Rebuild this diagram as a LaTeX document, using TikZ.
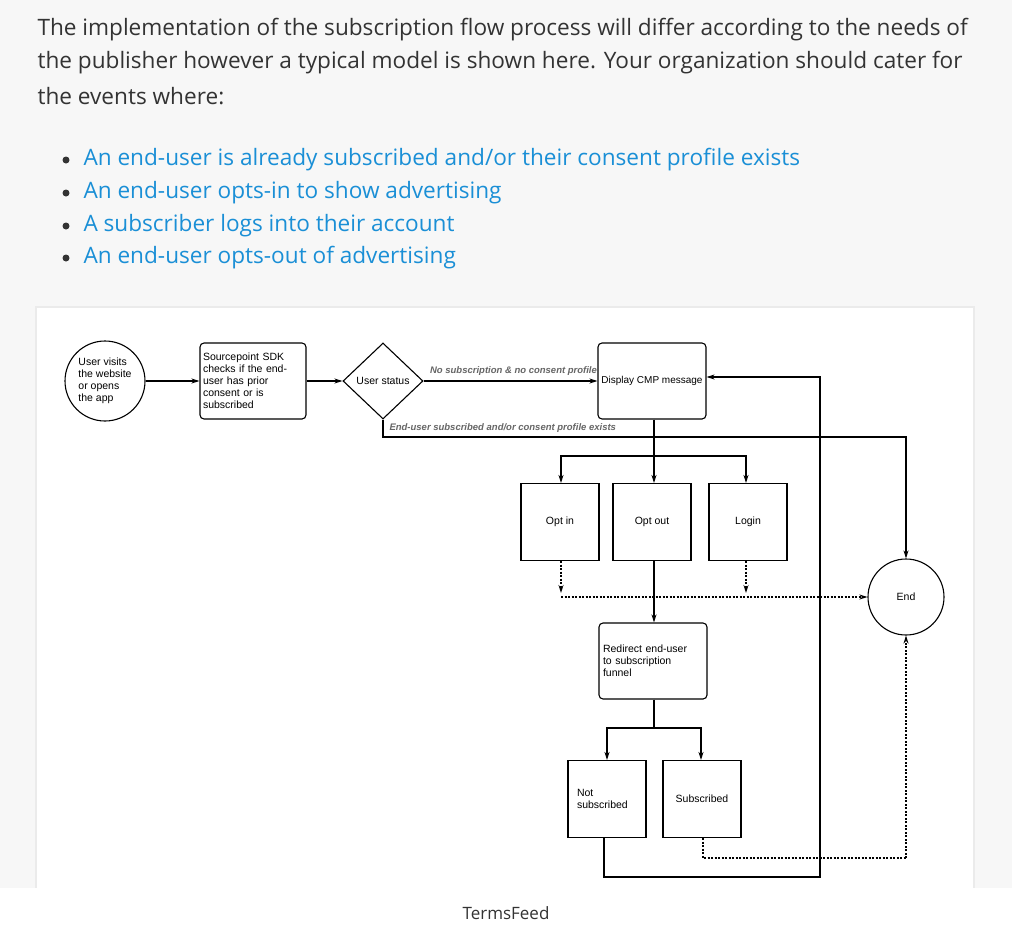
\documentclass[tikz,border=0pt]{standalone}
\usepackage{fontspec}
\setmainfont{Open Sans}
\newfontfamily\arial{Liberation Sans}
\usetikzlibrary{shapes.geometric,arrows.meta,shadows}
\definecolor{pagebg}{HTML}{F7F7F7}
\definecolor{linkblue}{HTML}{1A8FD6}
\definecolor{bodytxt}{HTML}{333333}
\definecolor{lblgray}{HTML}{666666}
\begin{document}
\begin{tikzpicture}[x=1pt,y=-1pt,
  ln/.style={line width=1.1pt,draw=black},
  arr/.style={ln,-{Stealth[length=8pt,width=5pt]}},
  dsh/.style={arr,dashed,dash pattern=on 2pt off 1.5pt},
  dshl/.style={ln,dashed,dash pattern=on 2pt off 1.5pt},
  box/.style={draw,line width=1.1pt,minimum width=#1,font=\arial\fontsize{10.5}{12}\selectfont,inner sep=2pt},
  rbox/.style={box=108pt,rounded corners=4pt,minimum height=76pt,text width=100pt,align=left},
  sbox/.style={box=78pt,minimum height=77pt,align=center},
  lbl/.style={font=\arial\fontsize{9.5}{10}\selectfont\itshape\bfseries,text=lblgray},
  body/.style={font=\fontsize{22.6}{33}\selectfont,text=bodytxt,anchor=west},
  bul/.style={font=\fontsize{22.6}{33}\selectfont,text=linkblue,anchor=west}]
\useasboundingbox (0,0) rectangle (1012,932);
\fill[pagebg] (0,0) rectangle (1012,888);
\fill[white] (0,888) rectangle (1012,932);
\fill[black!8] (35,306) rectangle (975,888);
\fill[white] (37,308) rectangle (973,888);
\node[body] (t1) at (34,30) {The implementation of the subscription flow process will differ according to the needs of};
\node[body] (t2) at (34,63) {the publisher however a typical model is shown here. Your organization should cater for};
\node[body] (t3) at (34,96) {the events where:};
\foreach \y/\t [count=\i] in {160/{An end-user is already subscribed and/or their consent profile exists},193/{An end-user opts-in to show advertising},226/{A subscriber logs into their account},258/{An end-user opts-out of advertising}}{
  \fill[bodytxt] (66,\y) circle (3.5pt);
  \node[bul] (b\i) at (80,\y) {\t};
}
% diagram
\node[circle,draw,line width=1.1pt,minimum size=80pt,inner sep=0pt,align=left,font=\arial\fontsize{10.5}{12}\selectfont] (user) at (105,381) {User visits\\the website\\or opens\\the app};
\node[rbox,text width=100pt,minimum width=106pt] (sdk) at (253,381) {Sourcepoint SDK\\checks if the end-\\user has prior\\consent or is\\subscribed};
\node[diamond,draw,line width=1.1pt,minimum width=80pt,minimum height=76pt,inner sep=0pt,font=\arial\fontsize{10.5}{12}\selectfont] (dia) at (383,381) {User status};
\node[box=108pt,rounded corners=4pt,minimum height=76pt,font=\arial\fontsize{10}{12}\selectfont] (cmp) at (652,381) {Display CMP message};
\node[sbox] (optin) at (560,522) {Opt in};
\node[sbox] (optout) at (652,522) {Opt out};
\node[sbox] (login) at (748,522) {Login};
\node[circle,draw,line width=1.1pt,minimum size=76pt,inner sep=0pt,font=\arial\fontsize{10.5}{12}\selectfont] (end) at (906,597) {End};
\node[rbox] (redir) at (653,661) {Redirect end-user\\to subscription\\funnel};
\node[sbox,align=left,text width=60pt] (nsub) at (607,799) {Not\\subscribed};
\node[sbox] (sub) at (702,799) {Subscribed};
\coordinate (c1) at (654,456);
\coordinate (c2) at (561,597);
\coordinate (c3) at (654,728);
\draw[arr] (user) -- (sdk);
\draw[arr] (sdk) -- (dia);
\draw[arr] (dia.east) -- node[lbl,above=2pt,xshift=3pt] {No subscription \& no consent profile} (cmp.west|-dia.east);
\draw[arr] (dia.south) |- (654,437) -| (end.north);
\node[lbl,anchor=west] (lb2) at (386,428) {End-user subscribed and/or consent profile exists};
\draw[arr] (cmp.south-|c1) -- (optout.north-|c1);
\draw[arr] (c1) -| (optin.north-|c2);
\draw[arr] (c1) -| (login.north-|746,0);
\draw[dsh] (optin.south-|c2) -- (561,593);
\draw[dsh] (login.south-|746,0) -- (746,593);
\draw[dsh] (c2) -- (end.west);
\draw[arr] (optout.south-|c1) -- (redir.north-|c1);
\draw[ln] (redir.south-|c3) -- (c3);
\draw[arr] (c3) -| (nsub.north-|607,0);
\draw[arr] (c3) -| (sub.north-|701,0);
\draw[arr] (nsub.south-|604,0) |- (820,877) |- (cmp.east|-0,377);
\draw[dshl] (sub.south-|703,0) |- (906,858);
\draw[dsh] (906,858) -- (end.south);
\node[font=\fontsize{17}{20}\selectfont,text=bodytxt] (tf) at (506,913) {TermsFeed};
\end{tikzpicture}
\end{document}
